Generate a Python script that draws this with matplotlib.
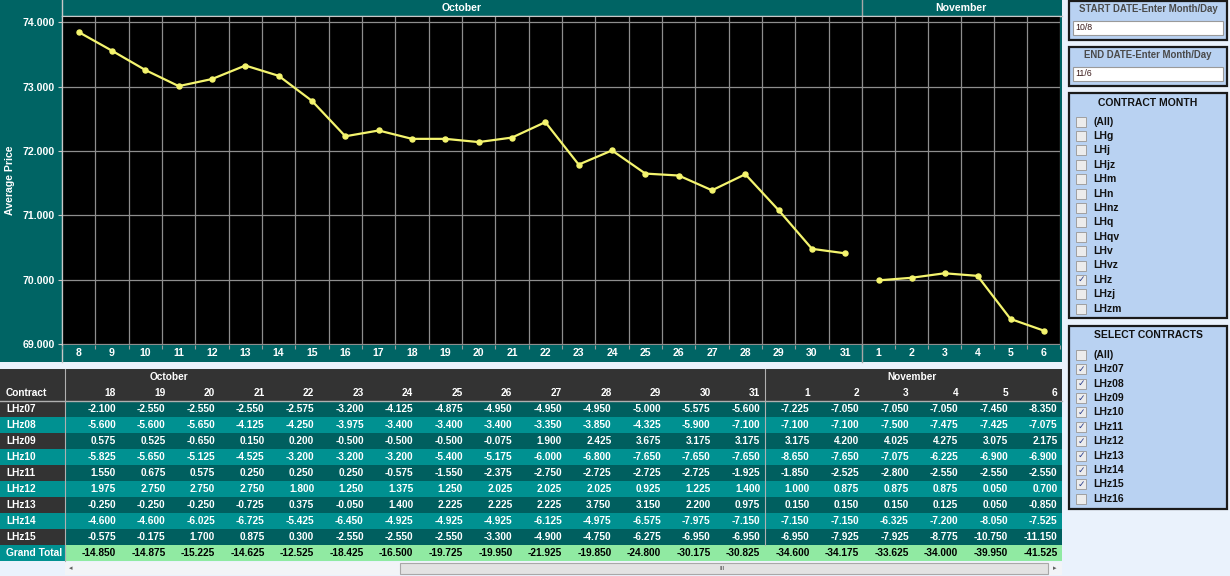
import matplotlib
matplotlib.use("Agg")
import matplotlib.pyplot as plt
from matplotlib.patches import Rectangle
import numpy as np

plt.rcParams['font.family'] = ['Liberation Sans', 'DejaVu Sans']
plt.rcParams['font.weight'] = 'bold'

# ---------------- data ----------------
oct_days = list(range(8, 32))
oct_price = [73.85, 73.56, 73.26, 73.01, 73.12, 73.33, 73.17, 72.78, 72.23, 72.32,
             72.19, 72.19, 72.14, 72.21, 72.45, 71.79, 72.01, 71.65, 71.62, 71.39,
             71.64, 71.08, 70.48, 70.41]
nov_days = list(range(1, 7))
nov_price = [69.99, 70.03, 70.10, 70.06, 69.39, 69.21]
y_ticks = [69, 70, 71, 72, 73, 74]

table_oct_days = list(range(18, 32))
table_nov_days = list(range(1, 7))
contracts = ['LHz07', 'LHz08', 'LHz09', 'LHz10', 'LHz11', 'LHz12', 'LHz13', 'LHz14', 'LHz15']
LHz07 = [-2.100, -2.550, -2.550, -2.550, -2.575, -3.200, -4.125, -4.875, -4.950, -4.950, -4.950, -5.000, -5.575, -5.600,
         -7.225, -7.050, -7.050, -7.050, -7.450, -8.350]
LHz08 = [-5.600, -5.600, -5.650, -4.125, -4.250, -3.975, -3.400, -3.400, -3.400, -3.350, -3.850, -4.325, -5.900, -7.100,
         -7.100, -7.100, -7.500, -7.475, -7.425, -7.075]
LHz09 = [0.575, 0.525, -0.650, 0.150, 0.200, -0.500, -0.500, -0.500, -0.075, 1.900, 2.425, 3.675, 3.175, 3.175,
         3.175, 4.200, 4.025, 4.275, 3.075, 2.175]
LHz10 = [-5.825, -5.650, -5.125, -4.525, -3.200, -3.200, -3.200, -5.400, -5.175, -6.000, -6.800, -7.650, -7.650, -7.650,
         -8.650, -7.650, -7.075, -6.225, -6.900, -6.900]
LHz11 = [1.550, 0.675, 0.575, 0.250, 0.250, 0.250, -0.575, -1.550, -2.375, -2.750, -2.725, -2.725, -2.725, -1.925,
         -1.850, -2.525, -2.800, -2.550, -2.550, -2.550]
LHz12 = [1.975, 2.750, 2.750, 2.750, 1.800, 1.250, 1.375, 1.250, 2.025, 2.025, 2.025, 0.925, 1.225, 1.400,
         1.000, 0.875, 0.875, 0.875, 0.050, 0.700]
LHz13 = [-0.250, -0.250, -0.250, -0.725, 0.375, -0.050, 1.400, 2.225, 2.225, 2.225, 3.750, 3.150, 2.200, 0.975,
         0.150, 0.150, 0.150, 0.125, 0.050, -0.850]
LHz14 = [-4.600, -4.600, -6.025, -6.725, -5.425, -6.450, -4.925, -4.925, -4.925, -6.125, -4.975, -6.575, -7.975, -7.150,
         -7.150, -7.150, -6.325, -7.200, -8.050, -7.525]
LHz15 = [-0.575, -0.175, 1.700, 0.875, 0.300, -2.550, -2.550, -2.550, -3.300, -4.900, -4.750, -6.275, -6.950, -6.950,
         -6.950, -7.925, -7.925, -8.775, -10.750, -11.150]
grand_total = [-14.850, -14.875, -15.225, -14.625, -12.525, -18.425, -16.500, -19.725, -19.950, -21.925, -19.850,
               -24.800, -30.175, -30.825, -34.600, -34.175, -33.625, -34.000, -39.950, -41.525]
rows = [LHz07, LHz08, LHz09, LHz10, LHz11, LHz12, LHz13, LHz14, LHz15]

contract_months = ['(All)', 'LHg', 'LHj', 'LHjz', 'LHm', 'LHn', 'LHnz', 'LHq', 'LHqv', 'LHv', 'LHvz', 'LHz', 'LHzj', 'LHzm']
contract_months_checked = ['LHz']
select_contracts = ['(All)', 'LHz07', 'LHz08', 'LHz09', 'LHz10', 'LHz11', 'LHz12', 'LHz13', 'LHz14', 'LHz15', 'LHz16']
select_checked = ['LHz07', 'LHz08', 'LHz09', 'LHz10', 'LHz11', 'LHz12', 'LHz13', 'LHz14', 'LHz15']
start_date = '10/8'
end_date = '11/6'

# ---------------- styling ----------------
PAGE = '#eaf2fc'
TEAL = '#006464'
DARK_ROW = '#005f5f'
LIGHT_ROW = '#009191'
GREY_HDR = '#333333'
GREEN = '#90eaa2'
GRID = '#8e8e8e'
YELLOW = '#f4f46e'
PANEL = '#b9d2f2'
TFS = 7.3

W, H = 1230, 576
fig = plt.figure(figsize=(W / 100, H / 100), dpi=100)
fig.patch.set_facecolor(PAGE)


def fr(x0, y0, x1, y1):
    return [x0 / W, 1 - y1 / H, (x1 - x0) / W, (y1 - y0) / H]


bg = fig.add_axes([0, 0, 1, 1], zorder=0)
bg.set_xlim(0, W)
bg.set_ylim(H, 0)
bg.axis('off')

# chart panel
bg.add_patch(Rectangle((0, 0), 1062, 362, color=TEAL, lw=0))
bg.plot([62, 62], [0, 362], color='#c8c8c8', lw=1)
bg.plot([862, 862], [0, 362], color='#a8a8a8', lw=1)
bg.plot([62, 1062], [16, 16], color='#c8c8c8', lw=1)
bg.text(462, 8, 'October', color='white', fontsize=7.6, ha='center', va='center')
bg.text(961, 8, 'November', color='white', fontsize=7.6, ha='center', va='center')
bg.text(10, 180, 'Average Price', color='white', fontsize=7.6, rotation=90, ha='center', va='center')

ylim = (68.985, 74.10)
axes_specs = [(fr(62, 16, 862, 345), oct_days, oct_price),
              (fr(862, 16, 1060, 345), nov_days, nov_price)]
for i, (rect, days, price) in enumerate(axes_specs):
    ax = fig.add_axes(rect, zorder=2)
    ax.set_facecolor('black')
    n = len(days)
    xs = np.arange(n)
    ax.plot(xs, price, color=YELLOW, lw=1.6, marker='o', ms=3.6, zorder=3)
    ax.set_xlim(-0.5, n - 0.5)
    ax.set_ylim(*ylim)
    ax.set_xticks(xs, [str(d) for d in days])
    ax.set_xticks(np.arange(n + 1) - 0.5, minor=True)
    ax.tick_params(axis='x', which='major', length=0, pad=2.5, labelcolor='white', labelsize=7.6)
    ax.tick_params(axis='x', which='minor', length=3, width=0.8, color='#a0a0a0', direction='out')
    ax.grid(which='minor', axis='x', color=GRID, lw=0.9)
    ax.set_yticks(y_ticks)
    if i == 0:
        ax.set_yticklabels([f'{v:.3f}' for v in y_ticks])
        ax.tick_params(axis='y', length=3, width=0.8, color='#c8c8c8', pad=2,
                       labelcolor='white', labelsize=7.6)
    else:
        ax.tick_params(axis='y', length=0, labelleft=False)
    ax.grid(which='major', axis='y', color=GRID, lw=0.9)
    ax.set_axisbelow(True)
    for s in ax.spines.values():
        s.set_visible(False)
    ax.spines['top'].set_visible(True)
    ax.spines['top'].set_color('#c8c8c8')
    if i == 0:
        ax.spines['left'].set_visible(True)
        ax.spines['left'].set_color('#c8c8c8')
        ax.spines['right'].set_visible(True)
        ax.spines['right'].set_color('#a8a8a8')

# ---------------- table ----------------
T_TOP, HDR_H, ROW_H = 369, 32, 16
col_w = 49.55
first_right = 116
tab_right = 1062

bg.add_patch(Rectangle((0, T_TOP), tab_right, HDR_H, color=GREY_HDR, lw=0))
bg.text(6, T_TOP + 24, 'Contract', color='white', fontsize=TFS, ha='left', va='center')
bg.text(169, T_TOP + 8, 'October', color='white', fontsize=TFS, ha='center', va='center')
bg.text(912, T_TOP + 8, 'November', color='white', fontsize=TFS, ha='center', va='center')
for j, d in enumerate(table_oct_days + table_nov_days):
    bg.text(first_right + col_w * j, T_TOP + 24, str(d), color='white', fontsize=TFS, ha='right', va='center')

for r, (name, vals) in enumerate(zip(contracts, rows)):
    y0 = T_TOP + HDR_H + ROW_H * r
    dark = (r % 2 == 0)
    bg.add_patch(Rectangle((0, y0), 65, ROW_H, color=GREY_HDR if dark else LIGHT_ROW, lw=0))
    bg.add_patch(Rectangle((65, y0), tab_right - 65, ROW_H, color=DARK_ROW if dark else LIGHT_ROW, lw=0))
    bg.text(6, y0 + ROW_H / 2, name, color='white', fontsize=TFS, ha='left', va='center')
    for j, v in enumerate(vals):
        bg.text(first_right + col_w * j, y0 + ROW_H / 2, f'{v:.3f}', color='white', fontsize=TFS,
                ha='right', va='center')

y0 = T_TOP + HDR_H + ROW_H * len(rows)
bg.add_patch(Rectangle((0, y0), 65, ROW_H, color=LIGHT_ROW, lw=0))
bg.add_patch(Rectangle((65, y0), tab_right - 65, ROW_H, color=GREEN, lw=0))
bg.text(6, y0 + ROW_H / 2, 'Grand Total', color='white', fontsize=TFS, ha='left', va='center')
for j, v in enumerate(grand_total):
    bg.text(first_right + col_w * j, y0 + ROW_H / 2, f'{v:.3f}', color='black', fontsize=TFS,
            ha='right', va='center')
t_bot = y0 + ROW_H

bg.plot([0, tab_right], [T_TOP + HDR_H, T_TOP + HDR_H], color='#b0b0b0', lw=1)
bg.plot([65, 65], [T_TOP, t_bot], color='#b0b0b0', lw=0.8)
bg.plot([765, 765], [T_TOP, t_bot - ROW_H], color='#b0b0b0', lw=0.8)

# scrollbar
bg.add_patch(Rectangle((65, t_bot + 1), tab_right - 65, 13, color='#f2f4f7', lw=0))
bg.add_patch(Rectangle((400, t_bot + 2), 648, 11, facecolor='#e2e2e2', edgecolor='#a8a8a8', lw=0.8))
bg.text(722, t_bot + 7.5, 'III', color='#707070', fontsize=4.5, ha='center', va='center')
bg.text(71, t_bot + 7.5, '◂', color='#606060', fontsize=5, ha='center', va='center', family='DejaVu Sans')
bg.text(1055, t_bot + 7.5, '▸', color='#606060', fontsize=5, ha='center', va='center', family='DejaVu Sans')

# ---------------- right panels ----------------
PX0, PX1 = 1069, 1227


def panel(y_top, y_bot):
    bg.add_patch(Rectangle((PX0, y_top), PX1 - PX0, y_bot - y_top, facecolor=PANEL,
                           edgecolor='#1a1a1a', lw=1.6))


for (yt, yb, title, val) in [(1, 40, 'START DATE-Enter Month/Day', start_date),
                             (47, 86, 'END DATE-Enter Month/Day', end_date)]:
    panel(yt, yb)
    bg.text((PX0 + PX1) / 2, yt + 8.5, title, color='#4a4a4a', fontsize=6.9, ha='center', va='center')
    bg.add_patch(Rectangle((1073, yt + 19.5), 150, 14.5, facecolor='white', edgecolor='#9a9a9a', lw=0.8))
    bg.text(1075, yt + 27, val, color='#3a1a1a', fontsize=6.3, ha='left', va='center', fontweight='normal')


def checklist(y_top, y_bot, title, items, checked, first_y, step):
    panel(y_top, y_bot)
    bg.text((PX0 + PX1) / 2, y_top + 9.5, title, color='#111111', fontsize=7.5, ha='center', va='center')
    for k, it in enumerate(items):
        yy = first_y + step * k
        bg.add_patch(Rectangle((1076, yy - 5), 10, 10, facecolor='#ececec', edgecolor='#a0a0a0', lw=0.7))
        if it in checked:
            bg.text(1081, yy, '✓', color='#2b3f8f', fontsize=6.5, ha='center', va='center',
                    family='DejaVu Sans', fontweight='normal')
        bg.text(1093, yy, it, color='#111111', fontsize=7.5, ha='left', va='center')


checklist(93, 318, 'CONTRACT MONTH', contract_months, contract_months_checked, 121.7, 14.38)
checklist(326, 509, 'SELECT CONTRACTS', select_contracts, select_checked, 355, 14.37)

fig.savefig('out.png', dpi=100, facecolor=PAGE)
